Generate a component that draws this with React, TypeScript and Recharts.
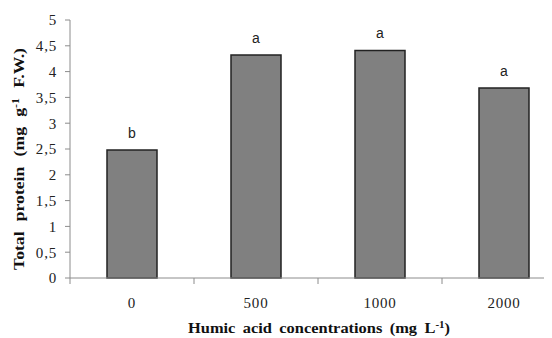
import React from "react";
import { BarChart, Bar, XAxis, YAxis, LabelList, Label } from "recharts";

const categories = ["0", "500", "1000", "2000"];
const proteinValues = [2.48, 4.32, 4.41, 3.68];
const letters = ["b", "a", "a", "a"];
const yTicks = [0, 0.5, 1, 1.5, 2, 2.5, 3, 3.5, 4, 4.5, 5];

const data = categories.map((c, i) => ({
  name: c,
  value: proteinValues[i],
  letter: letters[i],
}));

const serif = "'Liberation Serif', 'Times New Roman', serif";
const sans = "'Liberation Sans', Arial, sans-serif";
const axisColor = "#8c8c8c";
const HALF_BAND = 62;

const XTick = (props: any) => {
  const { x, y, payload } = props;
  return (
    <g>
      <line x1={x - HALF_BAND} x2={x - HALF_BAND} y1={270} y2={276} stroke={axisColor} strokeWidth={1} />
      <text x={x} y={y} dy={22} textAnchor="middle" fontFamily={serif} fontSize={15} letterSpacing={0.8} fill="#222">
        {payload.value}
      </text>
    </g>
  );
};

const YLabel = () => (
  <text
    x={0}
    y={0}
    transform="translate(16,151) rotate(-90)"
    textAnchor="middle"
    fontFamily={serif}
    fontWeight="bold"
    fontSize={15}
    wordSpacing={5}
    textLength={222}
    lengthAdjust="spacingAndGlyphs"
    fill="#111"
  >
    Total protein (mg g<tspan dy={-5} fontSize={10}>-1</tspan>
    <tspan dy={5}> F.W.)</tspan>
  </text>
);

const XLabel = () => (
  <text
    x={311}
    y={325}
    textAnchor="middle"
    fontFamily={serif}
    fontWeight="bold"
    fontSize={15}
    wordSpacing={3}
    textLength={262}
    lengthAdjust="spacingAndGlyphs"
    fill="#111"
  >
    Humic acid concentrations (mg L<tspan dy={-5} fontSize={10}>-1</tspan>
    <tspan dy={5}>)</tspan>
  </text>
);

export default function App() {
  return (
    <div style={{ width: 544, height: 330, overflow: "hidden" }}>
      <BarChart
        width={560}
        height={330}
        data={data}
        margin={{ top: 12, right: 2, left: 0, bottom: 0 }}
        barCategoryGap={0}
      >
        <XAxis
          dataKey="name"
          height={60}
          stroke={axisColor}
          tickLine={false}
          tick={<XTick />}
          interval={0}
        >
          <Label content={<XLabel />} />
        </XAxis>
        <YAxis
          width={62}
          domain={[0, 5]}
          ticks={yTicks}
          interval={0}
          stroke={axisColor}
          tickSize={5}
          tickMargin={8}
          tick={{ fontFamily: serif, fontSize: 15, fill: "#222", letterSpacing: 0.8 }}
          tickFormatter={(v: number) => String(v).replace(".", ",")}
        >
          <Label content={<YLabel />} />
        </YAxis>
        <Bar
          dataKey="value"
          fill="#808080"
          stroke="#222"
          strokeWidth={1.5}
          barSize={50}
          isAnimationActive={false}
        >
          <LabelList
            dataKey="letter"
            position="top"
            offset={12}
            style={{ fontFamily: sans, fontSize: 14, fill: "#222" }}
          />
        </Bar>
      </BarChart>
    </div>
  );
}
